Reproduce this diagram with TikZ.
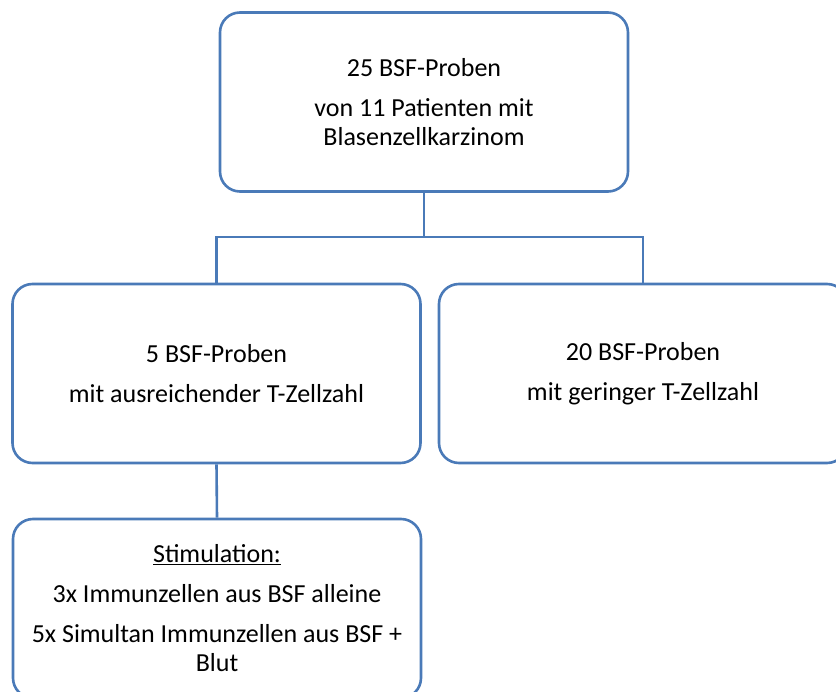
\documentclass[tikz,border=0pt]{standalone}
\usepackage{fontspec}
\setmainfont{Carlito}
\definecolor{rahmen}{RGB}{74,122,184}

\tikzstyle{probe} = [draw=rahmen, line width=2.6pt, fill=white, rounded corners=20pt,
    minimum width=408pt, minimum height=179pt, align=center,
    font=\fontsize{26}{29}\selectfont]
\tikzstyle{ast} = [draw=rahmen, line width=2.6pt]

\begin{document}
\begin{tikzpicture}[x=1pt, y=-1pt]
\useasboundingbox (0,0) rectangle (836,692);
\node[probe] (gesamt) at (424,102) {25 BSF-Proben\\[11pt]von 11 Patienten mit\\Blasenzellkarzinom};
\node[probe] (viel) at (216.5,373.5) {5 BSF-Proben\\[11pt]mit ausreichender T-Zellzahl};
\node[probe] (wenig) at (643,373.5) {20 BSF-Proben\\[11pt]mit geringer T-Zellzahl};
\node[probe] (stim) at (217,608.5) {\underline{Stimulation:}\\[11pt]3x Immunzellen aus BSF alleine\\[11pt]5x Simultan Immunzellen aus BSF +\\Blut};
\coordinate (gabel) at (424,237);
% Verbindungen
\draw[ast] (gesamt.south) -- (gabel);
\draw[ast] (viel.north) |- (gabel) -| (wenig.north);
\draw[ast] (viel.south) -- (stim.north);
\end{tikzpicture}
\end{document}
